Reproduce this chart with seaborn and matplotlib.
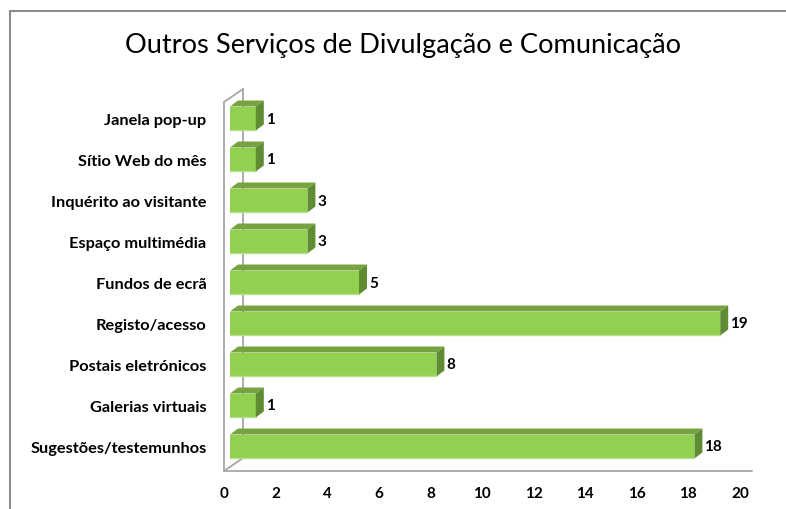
import numpy as np
import pandas as pd
import matplotlib
matplotlib.use('Agg')
import matplotlib.pyplot as plt
import seaborn as sns
from matplotlib.patches import Polygon, Rectangle
import matplotlib.transforms as mtransforms

title = "Outros Serviços de Divulgação e Comunicação"
categories = ["Janela pop-up", "Sítio Web do mês", "Inquérito ao visitante",
              "Espaço multimédia", "Fundos de ecrã", "Registo/acesso",
              "Postais eletrónicos", "Galerias virtuais", "Sugestões/testemunhos"]
values = [1, 1, 3, 3, 5, 19, 8, 1, 18]
xticks = list(range(0, 21, 2))

sns.set_theme(style='white')
plt.rcParams['font.family'] = ['Lato', 'DejaVu Sans']

W, H = 786, 510
fig = plt.figure(figsize=(W / 100, H / 100), dpi=100)
ax_left, ax_top, ax_w, ax_h = 230, 99, 516, 369
ax = fig.add_axes([ax_left / W, 1 - (ax_top + ax_h) / H, ax_w / W, ax_h / H])

df = pd.DataFrame({'cat': categories, 'val': values})
sns.barplot(data=df, x='val', y='cat', orient='h', color='#92D050', width=0.585,
            saturation=1, ax=ax, edgecolor='none', zorder=3)
ax.set_xlim(0, 20)
ax.set_ylim(8.5, -0.5)

pxu_x = ax_w / 20.0
pxu_y = ax_h / 9.0
dx = 8 / pxu_x
dy = 6 / pxu_y

for p, v in zip(ax.patches, values):
    x0, y0, w, h = p.get_x(), p.get_y(), p.get_width(), p.get_height()
    top = Polygon([(x0, y0), (x0 + w, y0), (x0 + w + dx, y0 - dy), (x0 + dx, y0 - dy)],
                  closed=True, fc='#76a33f', ec='none', zorder=3, clip_on=False)
    side = Polygon([(x0 + w, y0), (x0 + w + dx, y0 - dy), (x0 + w + dx, y0 + h - dy), (x0 + w, y0 + h)],
                   closed=True, fc='#5f8c30', ec='none', zorder=3, clip_on=False)
    ax.add_patch(top)
    ax.add_patch(side)
    ax.plot([x0, x0 + w], [y0 + h, y0 + h], color='#b5e08a', lw=1, zorder=4, clip_on=False)
    ax.text(x0 + w + dx + 2 / pxu_x, y0 + h / 2, str(v), va='center', ha='left',
            fontsize=11, fontweight='bold', color='black')

# wall / floor lines
lc = '#a6a6a6'
fx = -6 / pxu_x      # front plane x
bx = 13 / pxu_x      # back plane x
ft = -0.5 + (103 - ax_top) / pxu_y
bt = -0.5 + (90 - ax_top) / pxu_y
ff = -0.5 + (472 - ax_top) / pxu_y
bf = -0.5 + (459 - ax_top) / pxu_y
rx = (752 - ax_left) / pxu_x
ax.plot([fx, fx], [ft, ff], color=lc, lw=1.3, clip_on=False, zorder=1)
ax.plot([fx, bx], [ft, bt], color=lc, lw=1.3, clip_on=False, zorder=1)
ax.plot([bx, bx], [bt, bf], color=lc, lw=1.3, clip_on=False, zorder=1)
ax.plot([fx, bx], [ff, bf], color=lc, lw=1.3, clip_on=False, zorder=1)
ax.plot([fx, rx], [ff, ff], color=lc, lw=1.3, clip_on=False, zorder=1)

for s in ax.spines.values():
    s.set_visible(False)
ax.set_xlabel('')
ax.set_ylabel('')
ax.set_xticks(xticks)
ax.set_xticklabels([str(t) for t in xticks], fontsize=11, fontweight='bold', color='black')
ax.tick_params(axis='x', length=0, pad=14)
ax.tick_params(axis='y', length=0, pad=17)
for lbl in ax.get_yticklabels():
    lbl.set_fontsize(11.8)
    lbl.set_fontweight('bold')
    lbl.set_color('black')
off = mtransforms.ScaledTranslation(-6 / 100, 0, fig.dpi_scale_trans)
for lbl in ax.get_xticklabels():
    lbl.set_transform(lbl.get_transform() + off)
ax.grid(False)
ax.set_facecolor('none')

fig.text(403 / W, 1 - 46 / H, title, ha='center', va='center', fontsize=19.6, color='black')
fig.add_artist(Rectangle((10 / W, -0.1), 1.2, 1.1 - 12 / H, transform=fig.transFigure,
                         fill=False, ec='#8c8c8c', lw=1.5))

fig.savefig('out.png', dpi=100)
